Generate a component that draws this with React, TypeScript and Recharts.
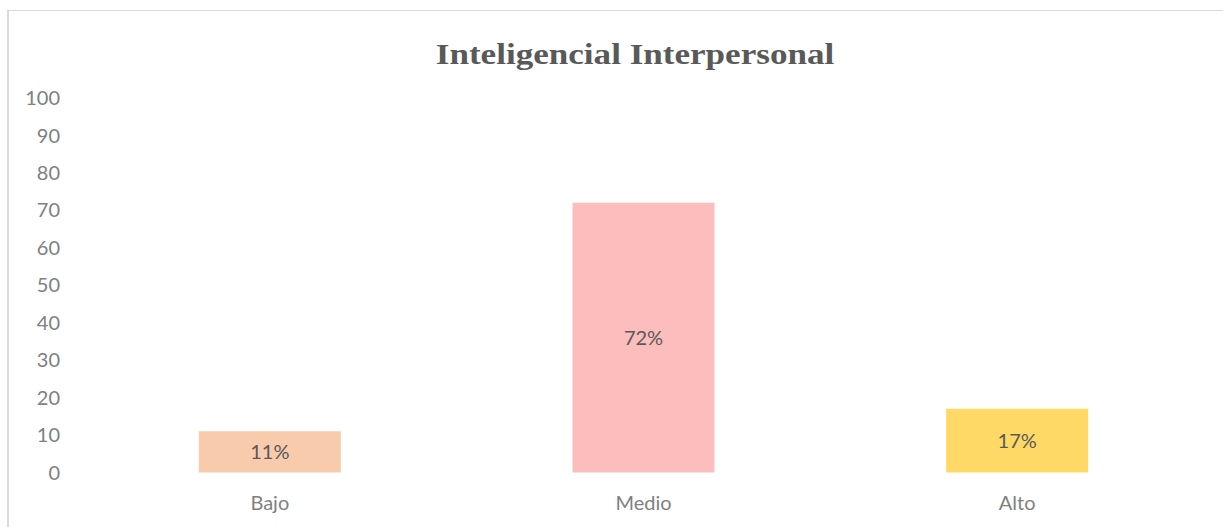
import React from "react";
import { BarChart, Bar, XAxis, YAxis, Cell, LabelList } from "recharts";

const categories = ["Bajo", "Medio", "Alto"];
const values = [11, 72, 17];
const valueLabels = ["11%", "72%", "17%"];
const barColors = ["#F8CBAD", "#FCBDBD", "#FFD966"];
const yTicks = [0, 10, 20, 30, 40, 50, 60, 70, 80, 90, 100];
const title = "Inteligencial Interpersonal";

const data = categories.map((c, i) => ({ name: c, value: values[i], label: valueLabels[i] }));

export default function App() {
  return (
    <div style={{ position: "absolute", left: 0, top: 0, width: 1223, height: 527, overflow: "hidden", background: "#fff" }}>
      <div
        style={{
          position: "absolute",
          left: 7,
          top: 10,
          width: 1300,
          height: 700,
          border: "1px solid #d9d9d9",
          borderLeftWidth: 2,
          boxSizing: "border-box",
        }}
      />
      <svg style={{ position: "absolute", left: 0, top: 0 }} width={1223} height={527}>
        <text
          transform="translate(635,64) scale(1.17,1)"
          x={0}
          y={0}
          textAnchor="middle"
          fontFamily="'Liberation Serif', 'Times New Roman', serif"
          fontWeight="bold"
          fontSize={30}
          fill="#595959"
        >
          {title}
        </text>
      </svg>
      <div style={{ position: "absolute", left: 0, top: 0 }}>
        <BarChart
          width={1223}
          height={527}
          data={data}
          margin={{ top: 98, right: 19, bottom: 0, left: 0 }}
          barCategoryGap="31%"
        >
          <XAxis
            dataKey="name"
            axisLine={false}
            tickLine={false}
            tickSize={0}
            tickMargin={23}
            height={54.5}
            tick={{ fill: "#808080", fontSize: 20, fontFamily: "Lato" }}
          />
          <YAxis
            domain={[0, 100]}
            ticks={yTicks}
            interval={0}
            axisLine={false}
            tickLine={false}
            tickSize={0}
            tickMargin={23}
            width={83}
            tick={{ fill: "#808080", fontSize: 20, fontFamily: "Lato" }}
          />
          <Bar dataKey="value" isAnimationActive={false}>
            {data.map((d, i) => (
              <Cell key={d.name} fill={barColors[i]} />
            ))}
            <LabelList dataKey="label" position="center" fill="#595959" fontSize={20} fontFamily="Lato" />
          </Bar>
        </BarChart>
      </div>
    </div>
  );
}
